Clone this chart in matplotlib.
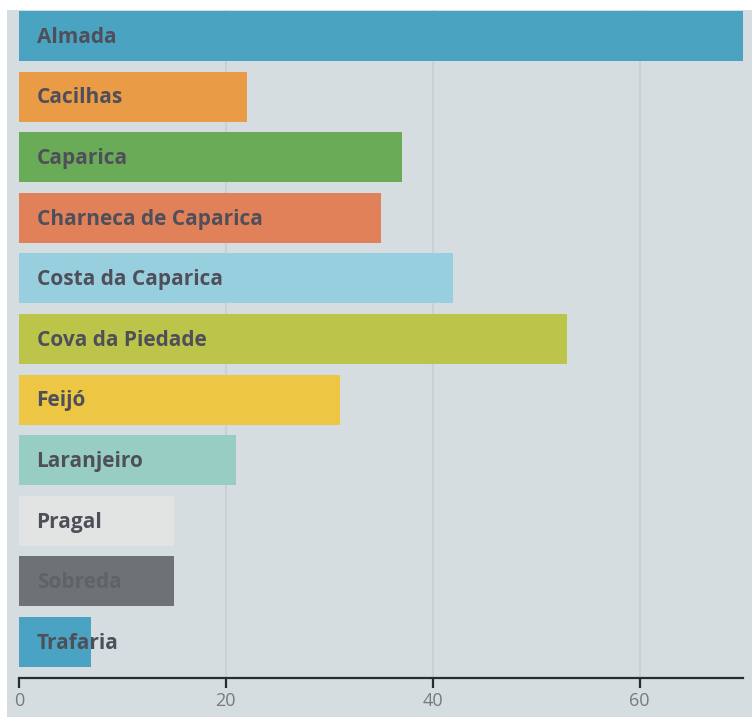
import matplotlib
matplotlib.use("Agg")
import matplotlib.pyplot as plt
from matplotlib.patches import Rectangle

categories = ["Almada", "Cacilhas", "Caparica", "Charneca de Caparica",
              "Costa da Caparica", "Cova da Piedade", "Feijó", "Laranjeiro",
              "Pragal", "Sobreda", "Trafaria"]
values = [70, 22, 37, 35, 42, 53, 31, 21, 15, 15, 7]
xticks = [0, 20, 40, 60]

bar_colors = ["#4ba3c2", "#e99b45", "#6aab57", "#e0815a", "#98cfdf",
              "#bcc54a", "#edc743", "#98cdc3", "#e2e4e3", "#6e7175", "#4ba3c3"]
label_colors = ["#4f4f5a"] * len(categories)
label_colors[categories.index("Sobreda")] = "#5f6266"

W, H = 752, 717
fig = plt.figure(figsize=(W / 100, H / 100), dpi=100)
fig.patch.set_facecolor("white")
bg = "#d5dde0"
fig.add_artist(Rectangle((7 / W, 0), 1 - 7 / W, 1 - 10 / H, transform=fig.transFigure,
                         facecolor=bg, edgecolor="none", zorder=0))

left, right, top, bottom = 19, 743, 10, 678
ax = fig.add_axes([left / W, 1 - bottom / H, (right - left) / W, (bottom - top) / H])
ax.set_facecolor("none")

y = list(range(len(categories)))
ax.barh(y, values, height=0.825, color=bar_colors, zorder=2)
pitch = 60.6
ax.set_ylim((bottom - 36) / pitch, -(36 - top) / pitch)
ax.set_xlim(0, 70)

for i, (c, col) in enumerate(zip(categories, label_colors)):
    ax.text(1.7, i + 0.02, c, va="center", ha="left", fontsize=15, fontweight="bold",
            family=["Open Sans", "DejaVu Sans"], color=col, zorder=3)

for t in xticks[1:]:
    ax.axvline(t, color="#cad1d4", lw=1.5, zorder=1)

for s in ["top", "right", "left"]:
    ax.spines[s].set_visible(False)
ax.spines["bottom"].set_color("#2b2b2b")
ax.spines["bottom"].set_linewidth(1.6)
ax.spines["bottom"].set_zorder(4)
ax.set_yticks([])
ax.set_xticks(xticks)
ax.set_xticklabels([str(t) for t in xticks], family=["Open Sans", "DejaVu Sans"],
                   fontsize=13, color="#7a7a7a")
ax.tick_params(axis="x", direction="out", length=7, width=1.6, color="#2b2b2b", pad=3)

fig.savefig("out.png", dpi=100, facecolor="white")
